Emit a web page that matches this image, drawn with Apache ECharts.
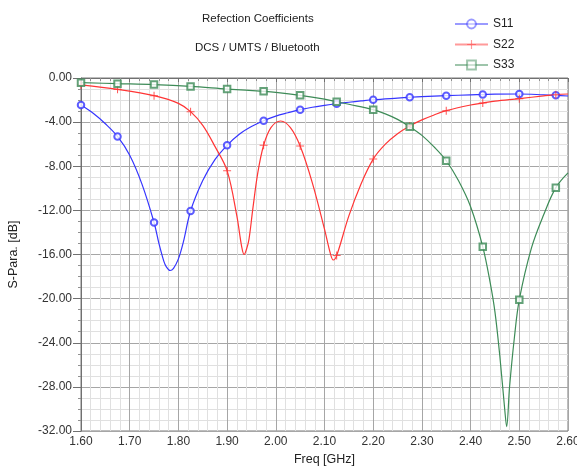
<!DOCTYPE html>
<html>
<head>
<meta charset="utf-8">
<script src="https://cdn.jsdelivr.net/npm/echarts@6/dist/echarts.min.js"></script>
<style>html,body{margin:0;padding:0;background:#fff;overflow:hidden;}#c{width:577px;height:466px;}</style>
</head>
<body>
<div id="c"></div>
<script>
// ---- data ----
var freqS11 = [1.600,1.625,1.650,1.675,1.700,1.725,1.750,1.760,1.770,1.775,1.783,1.790,1.800,1.810,1.825,1.850,1.875,1.900,1.925,1.950,1.975,2.000,2.025,2.050,2.075,2.100,2.125,2.150,2.175,2.200,2.250,2.275,2.300,2.350,2.400,2.425,2.450,2.500,2.550,2.575,2.600];
var s11     = [-2.45,-3.2,-4.15,-5.3,-7.0,-9.6,-13.1,-15.0,-16.6,-17.1,-17.45,-17.25,-16.4,-14.9,-12.06,-9.3,-7.4,-6.1,-5.1,-4.4,-3.87,-3.45,-3.15,-2.87,-2.65,-2.48,-2.33,-2.2,-2.08,-1.97,-1.82,-1.75,-1.69,-1.6,-1.53,-1.5,-1.47,-1.45,-1.52,-1.57,-1.63];

var freqS22 = [1.600,1.675,1.750,1.800,1.825,1.850,1.875,1.900,1.920,1.930,1.935,1.940,1.945,1.953,1.963,1.975,1.990,2.010,2.030,2.050,2.075,2.100,2.112,2.118,2.125,2.150,2.175,2.200,2.225,2.250,2.275,2.300,2.325,2.350,2.400,2.425,2.450,2.500,2.550,2.575,2.600];
var s22     = [-0.63,-1.03,-1.6,-2.3,-3.05,-4.3,-6.2,-8.4,-12.5,-15.3,-16.0,-15.5,-14.6,-11.8,-8.6,-6.1,-4.5,-3.9,-4.5,-6.17,-9.5,-13.7,-15.9,-16.5,-16.1,-12.5,-9.6,-7.35,-6.0,-5.05,-4.35,-3.8,-3.35,-2.96,-2.45,-2.27,-2.1,-1.87,-1.62,-1.51,-1.45];

var freqS33 = [1.600,1.675,1.750,1.825,1.900,1.975,2.000,2.050,2.100,2.125,2.150,2.200,2.225,2.250,2.275,2.300,2.325,2.350,2.375,2.400,2.425,2.440,2.450,2.460,2.470,2.474,2.480,2.490,2.500,2.525,2.550,2.575,2.600];
var s33     = [-0.42,-0.51,-0.6,-0.76,-1.0,-1.21,-1.3,-1.57,-1.92,-2.15,-2.38,-2.87,-3.25,-3.75,-4.41,-5.2,-6.25,-7.5,-9.3,-11.67,-15.3,-18.5,-21.2,-25.2,-30.0,-31.6,-28.0,-23.5,-20.1,-15.4,-12.4,-9.94,-8.6];

var markerFreq = [1.600,1.675,1.750,1.825,1.900,1.975,2.050,2.125,2.200,2.275,2.350,2.425,2.500,2.575];
var s11Mk = [-2.45,-5.3,-13.1,-12.06,-6.1,-3.87,-2.87,-2.33,-1.97,-1.75,-1.6,-1.5,-1.45,-1.57];
var s22Mk = [-0.63,-1.03,-1.6,-3.05,-8.4,-6.1,-6.17,-16.1,-7.35,-4.35,-2.96,-2.27,-1.87,-1.51];
var s33Mk = [-0.42,-0.51,-0.6,-0.76,-1.0,-1.21,-1.57,-2.15,-2.87,-4.41,-7.5,-15.3,-20.1,-9.94];

var seriesNames = ['S11','S22','S33'];
var titleText = 'Refection Coefficients';
var subTitleText = 'DCS / UMTS / Bluetooth';
var xName = 'Freq [GHz]';
var yName = 'S-Para. [dB]';

function zip(xs, ys){ return xs.map(function(x,i){ return [x, ys[i]]; }); }

var plusPath = 'path://M-1,-0.13L1,-0.13L1,0.13L-1,0.13ZM-0.13,-1L0.13,-1L0.13,1L-0.13,1Z';
var colors = ['#3535ff','#ff3535','#3d8b57'];
var symbols = ['emptyCircle', plusPath, 'emptyRect'];
var symSizes = [6.5, 8, 6.5];
var lines = [zip(freqS11,s11), zip(freqS22,s22), zip(freqS33,s33)];
var marks = [zip(markerFreq,s11Mk), zip(markerFreq,s22Mk), zip(markerFreq,s33Mk)];

var series = [];
for (var i=0;i<3;i++){
  series.push({
    name: seriesNames[i], type:'line', data: lines[i], smooth: 0.35,
    showSymbol:false, symbol: symbols[i], symbolSize: 9,
    lineStyle:{color:colors[i], width:1.2}, itemStyle:{color:colors[i], borderWidth: i===1?0:1},
    emphasis:{disabled:true}, animation:false, z: 3
  });
}
for (var j=0;j<3;j++){
  series.push({
    name: seriesNames[j], type:'scatter', data: marks[j],
    symbol: symbols[j], symbolSize: symSizes[j],
    itemStyle:{color:colors[j], borderColor:colors[j], borderWidth: j===1?0:1.1},
    emphasis:{disabled:true}, animation:false, z: 4
  });
}

var chart = echarts.init(document.getElementById('c'), null, {renderer:'canvas'});
chart.setOption({
  animation:false,
  backgroundColor:'#fff',
  textStyle:{fontFamily:'Liberation Sans, Arial, sans-serif'},
  title:[
    {text:titleText, left:197, top:8, textStyle:{fontSize:11.5, fontWeight:'normal', color:'#222', fontFamily:'Liberation Sans'}},
    {text:subTitleText, left:190, top:37, textStyle:{fontSize:11.5, fontWeight:'normal', color:'#222', fontFamily:'Liberation Sans'}}
  ],
  legend:{
    orient:'vertical', left:449, top:13, itemWidth:33, itemHeight:11, itemGap:8.5,
    data: seriesNames,
    textStyle:{fontSize:12, color:'#222', fontFamily:'Liberation Sans'},
    lineStyle:{opacity:0.5}, itemStyle:{opacity:0.5}
  },
  grid:{left:81, right:9, top:78, bottom:35, show:true, borderColor:'#7a7a7a', borderWidth:1, containLabel:false, outerBoundsMode:'none'},
  xAxis:{
    type:'value', min:1.6, max:2.6, interval:0.1,
    name:xName, nameLocation:'middle', nameGap:19,
    nameTextStyle:{fontSize:12.5, color:'#222', fontFamily:'Liberation Sans'},
    axisLine:{show:true, lineStyle:{color:'#707070'}},
    axisTick:{show:true, length:4, lineStyle:{color:'#707070'}},
    minorTick:{show:true, splitNumber:5, length:3, lineStyle:{color:'#909090'}},
    axisLabel:{margin:5, fontSize:12, color:'#333', fontFamily:'Liberation Sans', formatter:function(v){return v.toFixed(2);}},
    splitLine:{show:true, lineStyle:{color:'#a6a6a6', width:1}},
    minorSplitLine:{show:true, lineStyle:{color:'#e0e0e0', width:1}}
  },
  yAxis:{
    type:'value', min:-32, max:0, interval:4,
    name:yName, nameLocation:'middle', nameGap:61, nameRotate:90,
    nameTextStyle:{fontSize:12.5, color:'#222', fontFamily:'Liberation Sans'},
    axisLine:{show:true, lineStyle:{color:'#707070'}},
    axisTick:{show:true, length:8, lineStyle:{color:'#707070'}},
    minorTick:{show:true, splitNumber:4, length:3, lineStyle:{color:'#909090'}},
    axisLabel:{margin:9, fontSize:12, color:'#333', fontFamily:'Liberation Sans', formatter:function(v){return (Math.abs(v)<1e-9?0:v).toFixed(2);}},
    splitLine:{show:true, lineStyle:{color:'#a6a6a6', width:1}},
    minorSplitLine:{show:true, lineStyle:{color:'#e0e0e0', width:1}}
  },
  series: series
});
</script>
</body>
</html>
